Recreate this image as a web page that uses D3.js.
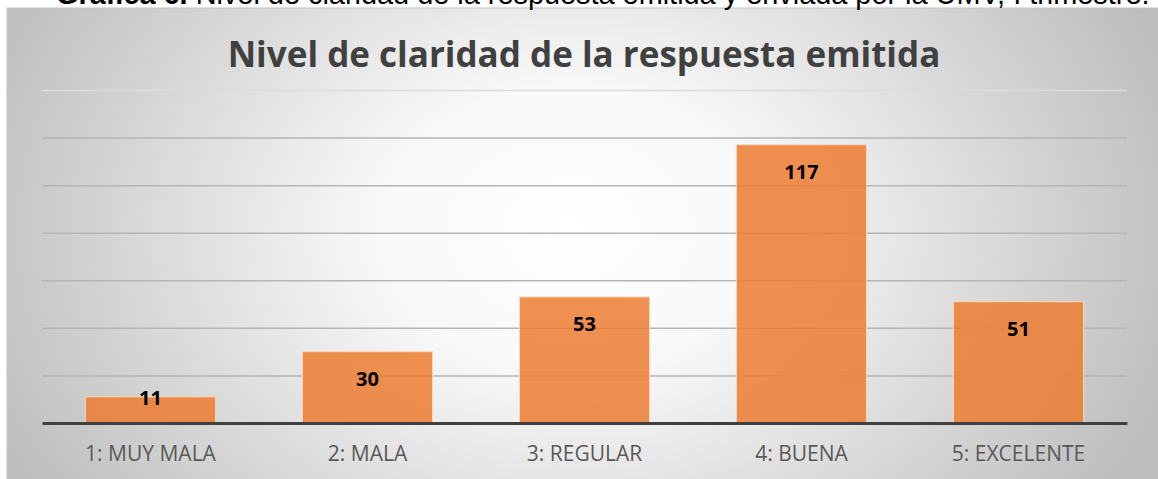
<!DOCTYPE html>
<html lang="es">
<head>
    <meta charset="UTF-8">
    <title>Nivel de claridad</title>
    <script src="https://cdn.jsdelivr.net/npm/d3@7"></script>
    <style>
        body { margin: 0; background: #fff; }
        svg { display: block; }
    </style>
</head>
<body>
<script type="text/javascript">
    var categories = ["1: MUY MALA", "2: MALA", "3: REGULAR", "4: BUENA", "5: EXCELENTE"];
    var values = [11, 30, 53, 117, 51];
    var yTicks = [0, 20, 40, 60, 80, 100, 120, 140];

    var width = 1158;
    var height = 479;
    var plot = {left: 42, right: 1127, top: 90, bottom: 423};

    var svg = d3.select("body").append("svg")
            .attr("width", width)
            .attr("height", height);

    // background of the chart box: light centre, gray edges
    var defs = svg.append("defs");
    var grad = defs.append("radialGradient")
            .attr("id", "bg")
            .attr("gradientUnits", "userSpaceOnUse")
            .attr("cx", 570).attr("cy", 230).attr("r", 640)
            .attr("gradientTransform", "translate(570,230) scale(1,0.75) translate(-570,-230)");
    grad.append("stop").attr("offset", "0%").attr("stop-color", "#ffffff");
    grad.append("stop").attr("offset", "30%").attr("stop-color", "#f8f8f8");
    grad.append("stop").attr("offset", "100%").attr("stop-color", "#bdbdbd");

    svg.append("rect")
            .attr("x", 7).attr("y", 8)
            .attr("width", width).attr("height", height)
            .attr("fill", "url(#bg)")
            .attr("stroke", "#c4c4c4")
            .attr("stroke-width", 1);

    // caption, cut off at the top of the picture
    var cap = svg.append("text")
            .attr("x", 56).attr("y", 4)
            .attr("font-family", "Liberation Sans, Arial, sans-serif")
            .attr("font-size", "22px")
            .attr("fill", "#000");
    cap.append("tspan").attr("font-weight", "bold").text("Gráfica 6.");
    cap.append("tspan").text(" Nivel de claridad de la respuesta emitida y enviada por la UMV, I trimestre.");
    fitWidth(cap, 1094);

    var title = svg.append("text")
            .attr("x", 584).attr("y", 67)
            .attr("text-anchor", "middle")
            .attr("font-family", "Open Sans, sans-serif")
            .attr("font-weight", "bold")
            .attr("font-size", "34px")
            .attr("fill", "#404040")
            .text("Nivel de claridad de la respuesta emitida");
    fitWidth(title, 713);

    var xScale = d3.scaleBand()
            .domain(categories)
            .range([plot.left, plot.right])
            .paddingInner(0.4)
            .paddingOuter(0.2);

    var yScale = d3.scaleLinear()
            .domain([0, d3.max(yTicks)])
            .range([plot.bottom, plot.top]);

    // gridlines
    var yAxis = d3.axisLeft(yScale)
            .tickValues(yTicks.slice(1))
            .tickSize(-(plot.right - plot.left))
            .tickFormat("");
    var gy = svg.append("g")
            .attr("transform", "translate(" + plot.left + ",0)")
            .call(yAxis);
    gy.select(".domain").remove();
    gy.selectAll(".tick line")
            .attr("stroke", function (d) { return d === 140 ? "#dcdcdc" : "#b5b5b5"; })
            .attr("stroke-width", 1.5);

    // bars
    svg.selectAll("rect.bar")
            .data(values)
            .enter()
            .append("rect")
            .attr("class", "bar")
            .attr("x", function (d, i) { return xScale(categories[i]); })
            .attr("y", function (d) { return yScale(d); })
            .attr("width", xScale.bandwidth())
            .attr("height", function (d) { return plot.bottom - yScale(d); })
            .attr("fill", "#ED7D31")
            .attr("fill-opacity", 0.85)
            .attr("stroke", "#fbd9c2")
            .attr("stroke-width", 1);

    // value labels
    svg.selectAll("text.val")
            .data(values)
            .enter()
            .append("text")
            .attr("class", "val")
            .attr("x", function (d, i) { return xScale(categories[i]) + xScale.bandwidth() / 2; })
            .attr("y", function (d) { return Math.min(yScale(d) + 34, plot.bottom - 18); })
            .attr("text-anchor", "middle")
            .attr("font-family", "Open Sans, sans-serif")
            .attr("font-weight", "bold")
            .attr("font-size", "20px")
            .attr("fill", "#000")
            .text(function (d) { return d; });

    // x axis
    var xAxis = d3.axisBottom(xScale).tickSize(0).tickPadding(23);
    var gx = svg.append("g")
            .attr("transform", "translate(0," + plot.bottom + ")")
            .call(xAxis);
    gx.select(".domain")
            .attr("stroke", "#404040")
            .attr("stroke-width", 3);
    gx.selectAll(".tick text")
            .attr("font-family", "Open Sans, sans-serif")
            .attr("font-size", "21px")
            .attr("fill", "#595959");

    function fitWidth(sel, target) {
        var w = sel.node().getComputedTextLength();
        var fs = parseFloat(sel.attr("font-size"));
        sel.attr("font-size", (fs * target / w) + "px");
    }
</script>
</body>
</html>
